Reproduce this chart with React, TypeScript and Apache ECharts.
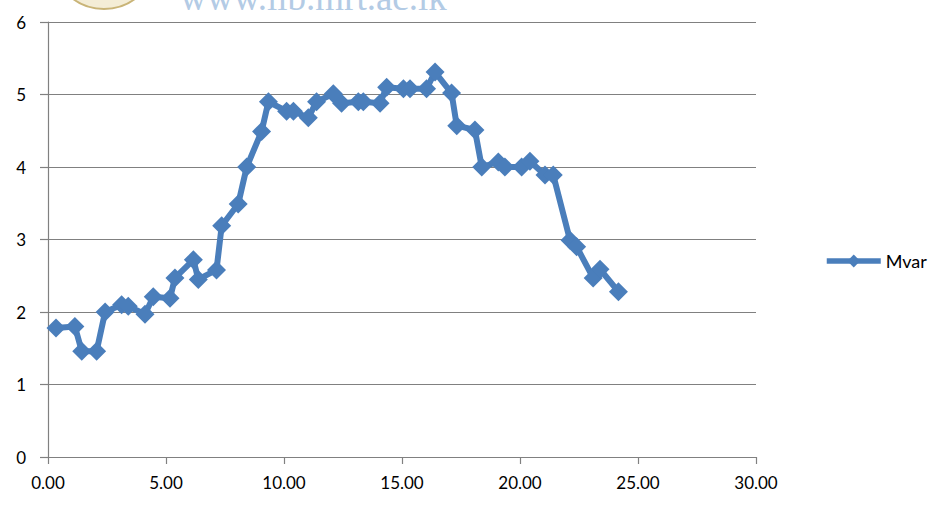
import React, { useEffect, useRef } from "react";
import * as echarts from "echarts";

const seriesName = "Mvar";
const xValues = [0.34, 1.14, 1.43, 2.06, 2.42, 3.12, 3.40, 4.11, 4.46, 5.17, 5.38, 6.16, 6.37, 7.14, 7.36, 8.06, 8.42, 9.05, 9.34, 10.11, 10.40, 11.03, 11.38, 12.09, 12.44, 13.15, 13.36, 14.07, 14.35, 15.06, 15.34, 16.04, 16.40, 17.10, 17.32, 18.09, 18.38, 19.08, 19.36, 20.07, 20.42, 21.06, 21.41, 22.12, 22.40, 23.10, 23.39, 24.17];
const yValues = [1.78, 1.80, 1.46, 1.46, 2.00, 2.10, 2.08, 1.97, 2.21, 2.19, 2.47, 2.72, 2.45, 2.58, 3.19, 3.49, 4.00, 4.49, 4.90, 4.77, 4.77, 4.68, 4.90, 5.01, 4.88, 4.90, 4.90, 4.88, 5.10, 5.08, 5.08, 5.08, 5.31, 5.02, 4.57, 4.51, 4.00, 4.07, 4.00, 4.00, 4.08, 3.89, 3.89, 2.99, 2.90, 2.47, 2.59, 2.28];
const watermarkText = "www.lib.mrt.ac.lk";

export default function App() {
  const ref = useRef<HTMLDivElement>(null);
  useEffect(() => {
    if (!ref.current) return;
    const chart = echarts.init(ref.current, undefined, { renderer: "svg" });
    const axisColor = "#808080";
    const font = "Lato, 'Liberation Sans', sans-serif";
    chart.setOption({
      animation: false,
      backgroundColor: "#ffffff",
      grid: { left: 48, right: 189, top: 22, bottom: 49, containLabel: false },
      xAxis: {
        type: "value",
        min: 0,
        max: 30,
        interval: 5,
        axisLine: { show: true, lineStyle: { color: axisColor, width: 1.2 } },
        axisTick: { show: true, length: 7, lineStyle: { color: axisColor, width: 1.2 } },
        splitLine: { show: false },
        axisLabel: {
          margin: 17,
          color: "#000",
          fontSize: 17,
          fontFamily: font,
          formatter: (v: number) => v.toFixed(2),
        },
      },
      yAxis: {
        type: "value",
        min: 0,
        max: 6,
        interval: 1,
        axisLine: { show: true, lineStyle: { color: axisColor, width: 1.2 } },
        axisTick: { show: true, length: 8, lineStyle: { color: axisColor, width: 1.2 } },
        splitLine: { show: true, lineStyle: { color: axisColor, width: 1.2 } },
        axisLabel: { margin: 22, color: "#000", fontSize: 17, fontFamily: font },
      },
      legend: {
        orient: "vertical",
        left: 819,
        top: 247,
        itemWidth: 54,
        itemHeight: 16,
        itemGap: 4,
        lineStyle: { width: 5.5 },
        textStyle: { color: "#000", fontSize: 18, fontFamily: font },
        data: [seriesName],
      },
      graphic: [
        {
          type: "ellipse",
          shape: { cx: 104, cy: -26, rx: 44, ry: 35 },
          style: { fill: "#f4edd6", stroke: "#c9b477", lineWidth: 2 },
          z: 100,
        },
        {
          type: "text",
          x: 180,
          y: -3,
          style: {
            text: watermarkText,
            font: "37px 'Liberation Serif', serif",
            fill: "#b3cbe5",
            verticalAlign: "middle",
          },
          z: 100,
        },
      ],
      series: [
        {
          name: seriesName,
          type: "line",
          data: xValues.map((x, i) => [x, yValues[i]]),
          symbol: "diamond",
          symbolSize: 19,
          itemStyle: { color: "#4a7ebb" },
          lineStyle: { color: "#4a7ebb", width: 6 },
        },
      ],
    });
    return () => chart.dispose();
  }, []);
  return (
    <div
      ref={ref}
      style={{ position: "fixed", left: 0, top: 0, width: 945, height: 506 }}
    />
  );
}
